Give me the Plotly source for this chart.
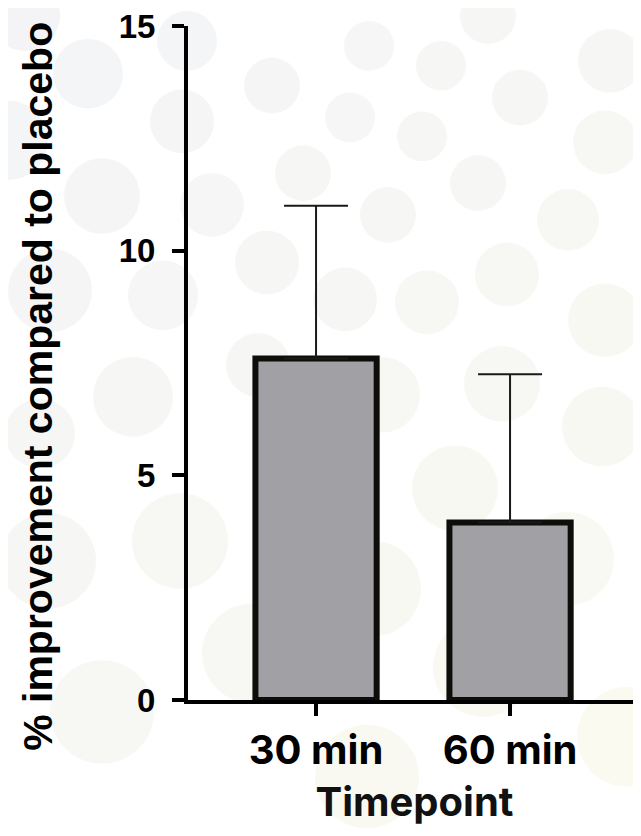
import plotly.graph_objects as go

# ---- data ----
timepoints = ["30 min", "60 min"]
improvement = [7.6, 3.95]
sem_upper = [3.4, 3.3]
y_ticks = [0, 5, 10, 15]

# ---- decorative background dots (window pixel centre x, y, radius) ----
dots_x = [369, 441, 488, 610, 520, 350, 422, 605, 478, 388, 568, 507, 345, 427, 605, 502, 382, 602,
          187, 88, 272, 182, 303, 102, 212, 8, 267, 163, 50, 258, 133, 25,
          300, 455, 180, 373, 567, 252, 483, 627, 367, 40, 48, 102]
dots_y = [42, 62, 12, 57, 94, 114, 133, 139, 180, 212, 217, 272, 297, 300, 318, 382, 393, 425,
          37, 70, 82, 118, 170, 193, 202, 137, 260, 293, 288, 363, 395, 12,
          478, 487, 540, 588, 558, 653, 667, 737, 777, 432, 560, 712]
dots_r = [25, 25, 28, 32, 28, 25, 25, 32, 28, 28, 31, 32, 32, 32, 37, 38, 38, 40,
          30, 35, 28, 32, 28, 38, 32, 40, 32, 35, 42, 32, 40, 35,
          42, 43, 48, 48, 47, 50, 50, 50, 52, 35, 48, 52]

OFF = 8                      # default page body margin
W, H = 641 - OFF, 836 - OFF  # figure size so it fits the window
L, R, T, B = 188 - OFF, 0, 22 - OFF, 836 - 700
PW, PH = W - L - R, H - T - B

fig = go.Figure()
fig.add_trace(go.Bar(
    x=[0, 1], y=improvement,
    width=0.625,
    marker=dict(color="#a1a0a5", line=dict(color="#0d0d0a", width=6)),
    error_y=dict(type="data", symmetric=False, array=sem_upper,
                 arrayminus=[0, 0], color="#1a1a1a", thickness=2, width=32),
    showlegend=False,
))

shapes = []
for cx, cy, r in zip(dots_x, dots_y, dots_r):
    t = min(1.0, max(0.0, (cx + cy) / 1477))
    col = "rgba(%d,%d,%d,0.11)" % (int(150 + 60 * t), int(155 + 55 * t), int(180 - 60 * t))
    fx, fy = cx - OFF, cy - OFF
    shapes.append(dict(type="circle", xref="paper", yref="paper", layer="below",
                       x0=(fx - r - L) / PW, x1=(fx + r - L) / PW,
                       y0=(H - B - (fy + r)) / PH, y1=(H - B - (fy - r)) / PH,
                       fillcolor=col, line=dict(width=0)))

fig.update_layout(
    width=W, height=H,
    margin=dict(l=L, r=R, t=T, b=B, pad=0),
    paper_bgcolor="white", plot_bgcolor="rgba(0,0,0,0)",
    shapes=shapes,
    xaxis=dict(
        range=[-0.66, 1.675], tickvals=[0, 1], ticktext=timepoints,
        showline=True, linecolor="black", linewidth=4,
        ticks="outside", ticklen=12, tickwidth=4, tickcolor="black",
        showgrid=False, zeroline=False,
        tickfont=dict(family="Inter", size=40, color="black", weight=700),
        title=dict(text="Timepoint", font=dict(family="Inter", size=40, color="#111", weight=700),
                   standoff=16),
    ),
    yaxis=dict(
        range=[0, 15], tickvals=y_ticks,
        showline=True, linecolor="black", linewidth=4,
        ticks="outside", ticklen=12, tickwidth=4, tickcolor="black",
        showgrid=False, zeroline=False,
        ticklabelstandoff=10, ticklabeloverflow="allow",
        tickfont=dict(family="Liberation Sans", size=33, color="black", weight=700),
    ),
    annotations=[dict(
        text="% improvement compared to placebo", textangle=-90,
        xref="paper", yref="paper", x=(38 - OFF - L) / PW, y=(H - B - (385 - OFF)) / PH,
        xanchor="center", yanchor="middle", showarrow=False,
        font=dict(family="Liberation Sans", size=41, color="black", weight=700),
    )],
)

fig.write_html("out.html")
